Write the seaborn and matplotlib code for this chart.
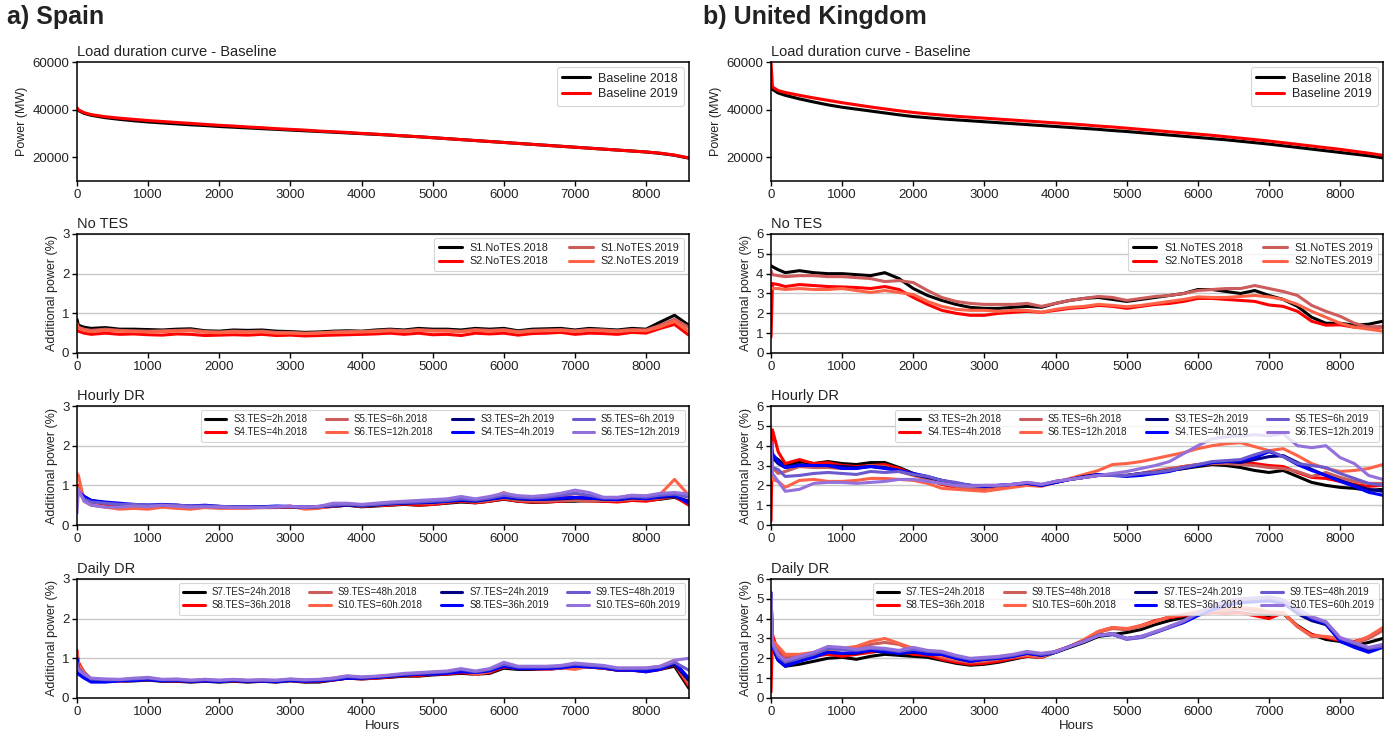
import matplotlib
matplotlib.use("Agg")
import matplotlib.pyplot as plt
import pandas as pd
import seaborn as sns

# ---------------------------------------------------------------- data
# Hour positions of the sampled values (shared by every series)
HOURS = [0, 20, 100] + list(range(200, 8601, 200))

# Load duration curves (MW)
ES_BASE_2018 = [40500, 39600, 38400, 37600,
                36600, 35900, 35300, 34800, 34400,
                34000, 33600, 33300, 32900, 32600,
                32300, 32000, 31700, 31400, 31100,
                30800, 30500, 30200, 29900, 29600,
                29300, 28900, 28600, 28200, 27800,
                27400, 27000, 26600, 26200, 25800,
                25400, 25000, 24600, 24200, 23800,
                23400, 23000, 22600, 22200, 21600,
                20800, 19600]
ES_BASE_2019 = [40800, 39900, 38700, 37900,
                37000, 36400, 35900, 35400, 35000,
                34600, 34200, 33800, 33400, 33100,
                32700, 32400, 32000, 31700, 31400,
                31000, 30700, 30400, 30000, 29700,
                29300, 29000, 28600, 28200, 27800,
                27400, 27000, 26600, 26200, 25800,
                25400, 25000, 24600, 24200, 23800,
                23400, 23000, 22600, 22200, 21700,
                20900, 19700]
UK_BASE_2018 = [49500, 48500, 47000, 46000,
                44500, 43200, 42000, 41000, 40200,
                39400, 38600, 37800, 37100, 36600,
                36100, 35700, 35300, 34900, 34500,
                34100, 33700, 33300, 32900, 32500,
                32100, 31700, 31200, 30800, 30300,
                29800, 29300, 28800, 28300, 27800,
                27300, 26700, 26100, 25500, 24800,
                24100, 23400, 22700, 22000, 21300,
                20600, 19700]
UK_BASE_2019 = [60000, 49500, 48000, 47200,
                46000, 44900, 43900, 42900, 42000,
                41100, 40300, 39500, 38800, 38200,
                37700, 37200, 36800, 36400, 36000,
                35600, 35200, 34800, 34400, 34000,
                33600, 33100, 32700, 32200, 31700,
                31200, 30700, 30200, 29700, 29200,
                28600, 28000, 27400, 26800, 26100,
                25400, 24700, 24000, 23300, 22500,
                21700, 20800]

# Spain - No TES (%)
ES_S1_2018 = [0.85, 0.70, 0.65, 0.62,
              0.64, 0.60, 0.60, 0.59, 0.58,
              0.60, 0.61, 0.56, 0.55, 0.58,
              0.57, 0.58, 0.55, 0.54, 0.52,
              0.53, 0.55, 0.56, 0.55, 0.58,
              0.60, 0.58, 0.62, 0.60, 0.60,
              0.58, 0.62, 0.60, 0.62, 0.56,
              0.60, 0.61, 0.62, 0.58, 0.62,
              0.60, 0.58, 0.62, 0.60, 0.78,
              0.95, 0.70]
ES_S2_2018 = [0.65, 0.55, 0.50, 0.47,
              0.50, 0.47, 0.48, 0.46, 0.45,
              0.48, 0.47, 0.44, 0.45, 0.46,
              0.45, 0.47, 0.44, 0.45, 0.43,
              0.44, 0.45, 0.46, 0.47, 0.48,
              0.50, 0.47, 0.50, 0.46, 0.47,
              0.44, 0.50, 0.48, 0.50, 0.45,
              0.49, 0.50, 0.52, 0.47, 0.50,
              0.49, 0.47, 0.52, 0.50, 0.62,
              0.72, 0.45]
ES_S1_2019 = [0.75, 0.65, 0.60, 0.57,
              0.60, 0.57, 0.56, 0.55, 0.56,
              0.57, 0.58, 0.54, 0.53, 0.55,
              0.54, 0.55, 0.52, 0.52, 0.50,
              0.51, 0.53, 0.54, 0.54, 0.56,
              0.58, 0.56, 0.59, 0.57, 0.57,
              0.55, 0.59, 0.57, 0.59, 0.54,
              0.57, 0.58, 0.59, 0.56, 0.59,
              0.58, 0.56, 0.59, 0.58, 0.70,
              0.85, 0.65]
ES_S2_2019 = [0.70, 0.62, 0.57, 0.54,
              0.57, 0.55, 0.54, 0.53, 0.54,
              0.55, 0.56, 0.52, 0.51, 0.53,
              0.52, 0.53, 0.50, 0.50, 0.49,
              0.50, 0.52, 0.52, 0.53, 0.54,
              0.56, 0.54, 0.57, 0.55, 0.55,
              0.53, 0.57, 0.55, 0.57, 0.52,
              0.55, 0.56, 0.57, 0.54, 0.57,
              0.56, 0.54, 0.57, 0.56, 0.66,
              0.80, 0.55]

# Spain - Hourly DR (%)
ES_S3_2018 = [0.75, 0.85, 0.72, 0.62,
              0.55, 0.50, 0.50, 0.48, 0.50,
              0.50, 0.47, 0.48, 0.47, 0.45,
              0.46, 0.45, 0.45, 0.46, 0.44,
              0.45, 0.47, 0.50, 0.46, 0.48,
              0.50, 0.52, 0.50, 0.52, 0.55,
              0.58, 0.56, 0.60, 0.65, 0.60,
              0.57, 0.58, 0.60, 0.60, 0.62,
              0.60, 0.60, 0.62, 0.62, 0.65,
              0.70, 0.55]
ES_S4_2018 = [0.90, 1.00, 0.70, 0.58,
              0.52, 0.50, 0.48, 0.47, 0.48,
              0.48, 0.47, 0.47, 0.46, 0.45,
              0.45, 0.44, 0.44, 0.45, 0.43,
              0.44, 0.47, 0.50, 0.47, 0.49,
              0.50, 0.53, 0.50, 0.52, 0.56,
              0.60, 0.56, 0.60, 0.66, 0.60,
              0.58, 0.58, 0.60, 0.62, 0.60,
              0.60, 0.58, 0.62, 0.60, 0.66,
              0.72, 0.50]
ES_S5_2018 = [0.85, 0.95, 0.70, 0.60,
              0.55, 0.52, 0.50, 0.48, 0.49,
              0.48, 0.46, 0.47, 0.46, 0.45,
              0.45, 0.45, 0.45, 0.46, 0.44,
              0.45, 0.48, 0.50, 0.48, 0.50,
              0.52, 0.55, 0.55, 0.55, 0.58,
              0.62, 0.58, 0.62, 0.68, 0.62,
              0.60, 0.60, 0.62, 0.62, 0.60,
              0.62, 0.62, 0.65, 0.65, 0.68,
              0.72, 0.60]
ES_S6_2018 = [1.30, 1.25, 0.60, 0.50,
              0.45, 0.40, 0.42, 0.40, 0.45,
              0.42, 0.40, 0.44, 0.42, 0.42,
              0.42, 0.44, 0.45, 0.48, 0.40,
              0.42, 0.50, 0.52, 0.48, 0.52,
              0.55, 0.58, 0.60, 0.58, 0.60,
              0.65, 0.62, 0.66, 0.82, 0.68,
              0.62, 0.68, 0.70, 0.80, 0.72,
              0.66, 0.68, 0.75, 0.70, 0.78,
              1.15, 0.75]
ES_S3_2019 = [0.70, 0.80, 0.70, 0.60,
              0.56, 0.52, 0.50, 0.50, 0.50,
              0.49, 0.47, 0.48, 0.46, 0.46,
              0.46, 0.45, 0.46, 0.46, 0.45,
              0.46, 0.48, 0.50, 0.48, 0.50,
              0.53, 0.55, 0.56, 0.57, 0.60,
              0.62, 0.60, 0.65, 0.70, 0.66,
              0.64, 0.65, 0.66, 0.68, 0.68,
              0.65, 0.64, 0.68, 0.67, 0.70,
              0.72, 0.60]
ES_S4_2019 = [0.75, 0.85, 0.72, 0.62,
              0.58, 0.55, 0.52, 0.50, 0.52,
              0.50, 0.48, 0.50, 0.47, 0.46,
              0.46, 0.46, 0.48, 0.47, 0.45,
              0.47, 0.50, 0.52, 0.50, 0.52,
              0.55, 0.56, 0.57, 0.58, 0.60,
              0.63, 0.62, 0.66, 0.70, 0.68,
              0.65, 0.66, 0.68, 0.70, 0.68,
              0.66, 0.64, 0.70, 0.66, 0.72,
              0.75, 0.55]
ES_S5_2019 = [0.60, 0.85, 0.65, 0.58,
              0.55, 0.52, 0.52, 0.50, 0.50,
              0.50, 0.48, 0.48, 0.47, 0.46,
              0.46, 0.45, 0.46, 0.47, 0.45,
              0.46, 0.50, 0.52, 0.50, 0.52,
              0.55, 0.57, 0.58, 0.60, 0.62,
              0.66, 0.63, 0.68, 0.75, 0.70,
              0.68, 0.70, 0.75, 0.80, 0.75,
              0.68, 0.68, 0.72, 0.70, 0.75,
              0.78, 0.70]
ES_S6_2019 = [0.30, 0.90, 0.60, 0.50,
              0.45, 0.45, 0.48, 0.46, 0.50,
              0.47, 0.45, 0.46, 0.45, 0.44,
              0.44, 0.44, 0.46, 0.47, 0.45,
              0.47, 0.55, 0.55, 0.52, 0.55,
              0.58, 0.60, 0.62, 0.64, 0.66,
              0.72, 0.66, 0.72, 0.80, 0.74,
              0.72, 0.75, 0.80, 0.88, 0.82,
              0.70, 0.70, 0.75, 0.74, 0.80,
              0.82, 0.78]

# Spain - Daily DR (%)
ES_S7_2018 = [1.00, 0.80, 0.60, 0.45,
              0.42, 0.42, 0.43, 0.45, 0.42,
              0.42, 0.40, 0.42, 0.40, 0.42,
              0.40, 0.42, 0.40, 0.43, 0.40,
              0.40, 0.45, 0.50, 0.48, 0.50,
              0.52, 0.55, 0.55, 0.58, 0.60,
              0.62, 0.60, 0.62, 0.75, 0.72,
              0.72, 0.72, 0.75, 0.80, 0.78,
              0.75, 0.70, 0.70, 0.68, 0.72,
              0.80, 0.25]
ES_S8_2018 = [1.20, 0.90, 0.65, 0.45,
              0.42, 0.43, 0.44, 0.46, 0.43,
              0.43, 0.41, 0.43, 0.41, 0.43,
              0.41, 0.42, 0.41, 0.44, 0.41,
              0.42, 0.45, 0.50, 0.48, 0.50,
              0.53, 0.56, 0.56, 0.60, 0.60,
              0.64, 0.60, 0.64, 0.78, 0.74,
              0.74, 0.72, 0.76, 0.80, 0.78,
              0.75, 0.70, 0.70, 0.66, 0.72,
              0.85, 0.30]
ES_S9_2018 = [1.10, 0.85, 0.65, 0.48,
              0.45, 0.44, 0.45, 0.48, 0.45,
              0.45, 0.43, 0.45, 0.42, 0.45,
              0.43, 0.44, 0.42, 0.45, 0.43,
              0.45, 0.47, 0.52, 0.50, 0.52,
              0.55, 0.58, 0.60, 0.62, 0.63,
              0.68, 0.62, 0.68, 0.82, 0.76,
              0.75, 0.75, 0.78, 0.80, 0.80,
              0.78, 0.72, 0.72, 0.72, 0.75,
              0.88, 0.35]
ES_S10_2018 = [1.15, 0.85, 0.60, 0.45,
               0.42, 0.42, 0.45, 0.50, 0.44,
               0.46, 0.42, 0.47, 0.42, 0.46,
               0.44, 0.45, 0.43, 0.47, 0.44,
               0.46, 0.50, 0.55, 0.52, 0.53,
               0.57, 0.60, 0.62, 0.65, 0.62,
               0.70, 0.60, 0.66, 0.88, 0.76,
               0.74, 0.72, 0.76, 0.72, 0.80,
               0.76, 0.72, 0.74, 0.75, 0.80,
               0.95, 0.45]
ES_S7_2019 = [1.00, 0.70, 0.55, 0.42,
              0.42, 0.44, 0.45, 0.47, 0.44,
              0.44, 0.42, 0.44, 0.42, 0.44,
              0.42, 0.43, 0.42, 0.45, 0.43,
              0.44, 0.46, 0.50, 0.50, 0.52,
              0.55, 0.57, 0.60, 0.62, 0.64,
              0.68, 0.66, 0.70, 0.80, 0.75,
              0.75, 0.76, 0.78, 0.82, 0.80,
              0.78, 0.72, 0.72, 0.70, 0.74,
              0.85, 0.45]
ES_S8_2019 = [1.00, 0.60, 0.50, 0.40,
              0.40, 0.43, 0.44, 0.46, 0.43,
              0.44, 0.42, 0.43, 0.41, 0.44,
              0.42, 0.43, 0.41, 0.44, 0.42,
              0.43, 0.46, 0.50, 0.50, 0.52,
              0.55, 0.58, 0.60, 0.60, 0.62,
              0.66, 0.64, 0.68, 0.80, 0.74,
              0.74, 0.74, 0.76, 0.80, 0.78,
              0.76, 0.70, 0.70, 0.66, 0.72,
              0.90, 0.50]
ES_S9_2019 = [0.90, 0.75, 0.60, 0.48,
              0.46, 0.46, 0.48, 0.50, 0.46,
              0.46, 0.44, 0.46, 0.44, 0.46,
              0.44, 0.45, 0.44, 0.47, 0.45,
              0.46, 0.48, 0.54, 0.52, 0.54,
              0.57, 0.60, 0.62, 0.64, 0.66,
              0.72, 0.66, 0.72, 0.85, 0.78,
              0.78, 0.78, 0.80, 0.85, 0.82,
              0.80, 0.74, 0.74, 0.74, 0.78,
              0.90, 0.70]
ES_S10_2019 = [0.80, 0.70, 0.60, 0.50,
               0.48, 0.47, 0.50, 0.52, 0.47,
               0.48, 0.45, 0.47, 0.45, 0.47,
               0.45, 0.46, 0.45, 0.48, 0.46,
               0.47, 0.50, 0.56, 0.53, 0.55,
               0.58, 0.62, 0.64, 0.66, 0.68,
               0.74, 0.68, 0.74, 0.90, 0.80,
               0.80, 0.80, 0.82, 0.88, 0.85,
               0.82, 0.76, 0.76, 0.76, 0.80,
               0.95, 1.00]

# United Kingdom - No TES (%)
UK_S1_2018 = [4.40, 4.35, 4.20, 4.05,
              4.15, 4.05, 4.00, 4.00, 3.95,
              3.90, 4.05, 3.75, 3.25, 2.90,
              2.65, 2.45, 2.30, 2.25, 2.25,
              2.30, 2.35, 2.30, 2.50, 2.65,
              2.75, 2.80, 2.70, 2.60, 2.70,
              2.80, 2.90, 3.00, 3.20, 3.20,
              3.10, 3.00, 3.15, 2.90, 2.70,
              2.35, 1.80, 1.50, 1.50, 1.40,
              1.45, 1.60]
UK_S2_2018 = [0.80, 3.50, 3.45, 3.35,
              3.45, 3.40, 3.35, 3.33, 3.30,
              3.25, 3.35, 3.20, 2.80, 2.45,
              2.15, 2.00, 1.90, 1.90, 2.00,
              2.05, 2.10, 2.05, 2.15, 2.25,
              2.30, 2.40, 2.35, 2.25, 2.35,
              2.45, 2.50, 2.60, 2.75, 2.75,
              2.70, 2.65, 2.60, 2.42, 2.35,
              2.10, 1.60, 1.40, 1.42, 1.30,
              1.30, 1.30]
UK_S1_2019 = [4.15, 3.95, 3.90, 3.85,
              3.90, 3.90, 3.85, 3.85, 3.80,
              3.75, 3.60, 3.65, 3.55, 3.15,
              2.80, 2.60, 2.50, 2.45, 2.45,
              2.45, 2.50, 2.35, 2.50, 2.65,
              2.75, 2.85, 2.80, 2.65, 2.75,
              2.85, 2.90, 3.00, 3.15, 3.20,
              3.25, 3.25, 3.40, 3.25, 3.10,
              2.90, 2.40, 2.10, 1.85, 1.50,
              1.30, 1.35]
UK_S2_2019 = [3.30, 3.25, 3.25, 3.20,
              3.25, 3.20, 3.20, 3.25, 3.15,
              3.05, 3.15, 3.05, 2.95, 2.60,
              2.35, 2.20, 2.15, 2.15, 2.10,
              2.15, 2.15, 2.05, 2.20, 2.30,
              2.35, 2.45, 2.40, 2.33, 2.40,
              2.50, 2.60, 2.70, 2.83, 2.80,
              2.80, 2.85, 2.90, 2.83, 2.70,
              2.45, 2.10, 1.80, 1.50, 1.30,
              1.20, 1.10]

# United Kingdom - Hourly DR (%)
UK_S3_2018 = [3.80, 3.50, 3.30, 3.00,
              3.20, 3.10, 3.20, 3.10, 3.05,
              3.15, 3.15, 2.90, 2.60, 2.40,
              2.20, 2.05, 1.95, 1.90, 1.95,
              2.00, 2.05, 2.00, 2.15, 2.30,
              2.40, 2.50, 2.50, 2.50, 2.55,
              2.65, 2.75, 2.85, 2.95, 3.05,
              3.00, 2.90, 2.75, 2.65, 2.75,
              2.45, 2.15, 2.00, 1.90, 1.85,
              1.75, 1.80]
UK_S4_2018 = [0.20, 4.80, 3.70, 3.10,
              3.30, 3.10, 3.15, 3.00, 2.95,
              3.00, 3.05, 2.85, 2.55, 2.30,
              2.05, 1.90, 1.85, 1.85, 1.95,
              2.00, 2.05, 2.00, 2.20, 2.30,
              2.40, 2.50, 2.50, 2.50, 2.60,
              2.70, 2.80, 2.95, 3.05, 3.10,
              3.10, 3.15, 3.10, 3.00, 2.95,
              2.65, 2.40, 2.35, 2.20, 2.05,
              1.95, 2.00]
UK_S5_2018 = [3.20, 2.90, 2.60, 2.70,
              2.95, 2.90, 2.90, 2.85, 2.85,
              3.00, 2.95, 2.70, 2.50, 2.30,
              2.10, 1.95, 1.85, 1.85, 1.95,
              2.00, 2.05, 2.00, 2.20, 2.30,
              2.45, 2.55, 2.50, 2.50, 2.60,
              2.75, 2.85, 2.95, 3.05, 3.10,
              3.10, 3.05, 3.00, 2.90, 2.85,
              2.70, 2.45, 2.65, 2.40, 2.20,
              2.10, 2.10]
UK_S6_2018 = [2.60, 2.30, 2.20, 1.90,
              2.25, 2.30, 2.20, 2.20, 2.25,
              2.35, 2.35, 2.30, 2.25, 2.10,
              1.85, 1.80, 1.75, 1.70, 1.80,
              1.90, 2.00, 1.95, 2.15, 2.35,
              2.55, 2.75, 3.05, 3.10, 3.20,
              3.35, 3.50, 3.65, 3.85, 4.00,
              4.10, 4.15, 3.95, 3.75, 3.85,
              3.50, 3.10, 2.85, 2.70, 2.75,
              2.85, 3.05]
UK_S3_2019 = [3.60, 3.40, 3.10, 2.90,
              3.05, 3.00, 3.00, 2.95, 2.90,
              2.95, 2.90, 2.75, 2.55, 2.40,
              2.25, 2.10, 2.00, 1.95, 2.00,
              2.05, 2.10, 2.00, 2.15, 2.30,
              2.45, 2.55, 2.50, 2.50, 2.60,
              2.65, 2.75, 2.85, 3.00, 3.15,
              3.20, 3.15, 3.30, 3.45, 3.50,
              3.15, 2.80, 2.50, 2.25, 2.00,
              1.80, 1.70]
UK_S4_2019 = [4.00, 3.60, 3.20, 2.90,
              3.00, 3.00, 3.00, 2.85, 2.85,
              2.95, 2.85, 2.75, 2.60, 2.45,
              2.25, 2.10, 2.00, 1.95, 2.00,
              2.05, 2.10, 2.00, 2.15, 2.30,
              2.40, 2.55, 2.50, 2.45, 2.50,
              2.60, 2.70, 2.90, 3.00, 3.15,
              3.20, 3.25, 3.40, 3.70, 3.45,
              3.05, 2.75, 2.50, 2.20, 1.95,
              1.65, 1.50]
UK_S5_2019 = [3.20, 2.90, 2.80, 2.45,
              2.50, 2.60, 2.65, 2.60, 2.55,
              2.70, 2.65, 2.70, 2.55, 2.45,
              2.25, 2.15, 2.00, 2.00, 2.00,
              2.05, 2.15, 2.05, 2.20, 2.30,
              2.40, 2.50, 2.50, 2.50, 2.60,
              2.65, 2.75, 2.90, 3.05, 3.20,
              3.25, 3.30, 3.55, 3.75, 3.45,
              3.10, 3.00, 2.90, 2.60, 2.35,
              2.10, 2.00]
UK_S6_2019 = [4.20, 2.60, 2.20, 1.70,
              1.80, 2.10, 2.15, 2.15, 2.10,
              2.15, 2.20, 2.30, 2.30, 2.20,
              2.10, 2.00, 1.95, 2.00, 2.00,
              2.05, 2.15, 2.05, 2.20, 2.30,
              2.40, 2.50, 2.60, 2.70, 2.85,
              3.00, 3.20, 3.60, 4.00, 4.35,
              4.45, 4.50, 4.55, 4.50, 4.60,
              4.00, 3.90, 4.00, 3.40, 3.10,
              2.50, 2.30]

# United Kingdom - Daily DR (%)
UK_S7_2018 = [3.00, 2.50, 1.90, 1.60,
              1.70, 1.85, 2.00, 2.05, 1.95,
              2.10, 2.20, 2.15, 2.10, 2.05,
              1.90, 1.75, 1.65, 1.70, 1.80,
              1.95, 2.10, 2.05, 2.30, 2.55,
              2.80, 3.10, 3.20, 3.30, 3.45,
              3.70, 3.90, 4.05, 4.20, 4.30,
              4.30, 4.30, 4.20, 4.15, 4.25,
              3.65, 3.20, 2.95, 2.85, 2.65,
              2.80, 3.00]
UK_S8_2018 = [0.30, 3.20, 2.30, 2.00,
              2.00, 2.10, 2.20, 2.10, 2.20,
              2.30, 2.40, 2.35, 2.20, 2.15,
              1.95, 1.80, 1.70, 1.75, 1.85,
              2.00, 2.10, 2.05, 2.35, 2.60,
              2.90, 3.35, 3.55, 3.45, 3.65,
              3.90, 4.05, 4.15, 4.25, 4.30,
              4.25, 4.30, 4.15, 4.00, 4.30,
              3.60, 3.20, 3.05, 2.90, 2.85,
              3.05, 3.50]
UK_S9_2018 = [3.00, 2.80, 2.50, 2.10,
              2.15, 2.25, 2.45, 2.45, 2.50,
              2.70, 2.80, 2.70, 2.40, 2.30,
              2.05, 1.90, 1.80, 1.85, 1.95,
              2.05, 2.15, 2.05, 2.35, 2.60,
              2.90, 3.30, 3.50, 3.45, 3.60,
              3.85, 4.10, 4.20, 4.30, 4.40,
              4.40, 4.50, 4.40, 4.30, 4.30,
              3.60, 3.10, 3.10, 2.95, 2.75,
              3.00, 3.40]
UK_S10_2018 = [3.20, 2.90, 2.60, 2.20,
               2.20, 2.30, 2.50, 2.50, 2.60,
               2.85, 3.00, 2.75, 2.50, 2.35,
               2.10, 1.95, 1.85, 1.90, 2.00,
               2.10, 2.15, 2.10, 2.35, 2.60,
               2.95, 3.35, 3.55, 3.50, 3.65,
               3.85, 4.10, 4.20, 4.35, 4.45,
               4.50, 4.55, 4.50, 4.35, 4.30,
               3.60, 3.15, 3.10, 3.00, 2.80,
               3.10, 3.55]
UK_S7_2019 = [5.30, 2.70, 2.00, 1.70,
              1.90, 2.10, 2.30, 2.25, 2.25,
              2.40, 2.30, 2.25, 2.30, 2.25,
              2.20, 2.00, 1.85, 1.95, 2.00,
              2.10, 2.25, 2.15, 2.30, 2.60,
              2.85, 3.15, 3.25, 3.00, 3.10,
              3.30, 3.60, 3.85, 4.20, 4.50,
              4.70, 4.85, 4.90, 4.90, 4.80,
              4.25, 3.90, 3.70, 2.90, 2.60,
              2.40, 2.60]
UK_S8_2019 = [5.30, 2.60, 1.90, 1.60,
              1.85, 2.05, 2.30, 2.25, 2.30,
              2.40, 2.35, 2.25, 2.35, 2.20,
              2.20, 2.00, 1.85, 1.95, 2.00,
              2.10, 2.25, 2.15, 2.30, 2.60,
              2.85, 3.15, 3.20, 3.00, 3.05,
              3.30, 3.55, 3.80, 4.15, 4.45,
              4.65, 4.80, 4.85, 4.90, 4.75,
              4.35, 4.00, 3.75, 2.85, 2.55,
              2.30, 2.55]
UK_S9_2019 = [5.30, 2.70, 2.10, 1.80,
              2.00, 2.20, 2.50, 2.45, 2.40,
              2.50, 2.45, 2.35, 2.45, 2.35,
              2.30, 2.10, 1.95, 2.00, 2.05,
              2.15, 2.30, 2.20, 2.30, 2.60,
              2.85, 3.15, 3.20, 2.95, 3.05,
              3.30, 3.55, 3.85, 4.25, 4.60,
              4.85, 4.95, 5.00, 5.05, 4.90,
              4.45, 4.05, 3.80, 3.00, 2.75,
              2.50, 2.60]
UK_S10_2019 = [5.30, 2.80, 2.20, 1.90,
               2.10, 2.30, 2.60, 2.55, 2.45,
               2.55, 2.50, 2.40, 2.55, 2.40,
               2.35, 2.15, 2.00, 2.05, 2.10,
               2.20, 2.35, 2.25, 2.35, 2.60,
               2.85, 3.15, 3.25, 3.00, 3.10,
               3.35, 3.60, 3.90, 4.30, 4.65,
               4.90, 5.00, 5.05, 5.10, 4.95,
               4.50, 4.10, 3.85, 3.05, 2.80,
               2.55, 2.70]

# Legend labels
BASE_LABELS = ["Baseline 2018", "Baseline 2019"]
NOTES_LABELS = ["S1.NoTES.2018", "S2.NoTES.2018", "S1.NoTES.2019", "S2.NoTES.2019"]
HOURLY_LABELS = ["S3.TES=2h.2018", "S4.TES=4h.2018", "S5.TES=6h.2018", "S6.TES=12h.2018",
                 "S3.TES=2h.2019", "S4.TES=4h.2019", "S5.TES=6h.2019", "S6.TES=12h.2019"]
DAILY_LABELS = ["S7.TES=24h.2018", "S8.TES=36h.2018", "S9.TES=48h.2018", "S10.TES=60h.2018",
                "S7.TES=24h.2019", "S8.TES=36h.2019", "S9.TES=48h.2019", "S10.TES=60h.2019"]

# ---------------------------------------------------------------- style
BASE_COLORS = ["black", "red"]
NOTES_COLORS = ["black", "red", "indianred", "tomato"]
TES_COLORS = ["black", "red", "indianred", "tomato",
              "navy", "blue", "slateblue", "mediumpurple"]

sns.set_theme(style="white")
plt.rcParams["font.family"] = ["Liberation Sans", "DejaVu Sans"]
plt.rcParams["text.color"] = "#222222"
plt.rcParams["axes.labelcolor"] = "#222222"

fig = plt.figure(figsize=(13.92, 7.4), dpi=100)

COL_LEFT = [0.0553, 0.5539]
COL_WIDTH = 0.4395
ROW_BOTTOM = [0.7554, 0.5230, 0.2905, 0.0568]
ROW_HEIGHT = 0.1608


def draw_panel(ax, series, labels, colors, title, ylim, yticks, ylabel,
               ncol, legend_size, grid=True, xlabel=None):
    for values, label, color in zip(series, labels, colors):
        frame = pd.DataFrame({"Hours": HOURS, "value": values})
        sns.lineplot(data=frame, x="Hours", y="value", ax=ax, color=color,
                     lw=2.2, label=label, errorbar=None, legend=False)
    ax.set_xlim(0, 8600)
    ax.set_xticks(range(0, 8001, 1000))
    ax.set_ylim(*ylim)
    ax.set_yticks(yticks)
    ax.set_title(title, loc="left", fontsize=10.5, pad=4)
    ax.set_ylabel(ylabel, fontsize=9, labelpad=3)
    ax.set_xlabel(xlabel if xlabel else "", fontsize=9.5, labelpad=2)
    ax.tick_params(axis="both", which="major", bottom=True, left=True,
                   direction="out", length=3.5, width=1, color="black",
                   labelsize=9.5, pad=2, labelcolor="#222222")
    for spine in ax.spines.values():
        spine.set_color("black")
        spine.set_linewidth(1.1)
    if grid:
        ax.yaxis.grid(True, color="#c8c8c8", lw=1)
    else:
        ax.grid(False)
    ax.xaxis.grid(False)
    ax.set_axisbelow(True)
    leg = ax.legend(ncol=ncol, loc="upper right", fontsize=legend_size,
                    frameon=True, borderaxespad=0.4, handlelength=2.2,
                    columnspacing=1.9, handletextpad=0.7, labelspacing=0.3,
                    borderpad=0.45)
    leg.get_frame().set_edgecolor("#cccccc")
    leg.get_frame().set_linewidth(0.8)


panels = [
    # Spain
    (0, 0, [ES_BASE_2018, ES_BASE_2019], BASE_LABELS, BASE_COLORS,
     "Load duration curve - Baseline", (10000, 60000), [20000, 40000, 60000],
     "Power (MW)", 1, 9, False),
    (0, 1, [ES_S1_2018, ES_S2_2018, ES_S1_2019, ES_S2_2019], NOTES_LABELS,
     NOTES_COLORS, "No TES", (0, 3), [0, 1, 2, 3], "Additional power (%)", 2, 7.8, True),
    (0, 2, [ES_S3_2018, ES_S4_2018, ES_S5_2018, ES_S6_2018,
            ES_S3_2019, ES_S4_2019, ES_S5_2019, ES_S6_2019], HOURLY_LABELS,
     TES_COLORS, "Hourly DR", (0, 3), [0, 1, 2, 3], "Additional power (%)", 4, 7.0, True),
    (0, 3, [ES_S7_2018, ES_S8_2018, ES_S9_2018, ES_S10_2018,
            ES_S7_2019, ES_S8_2019, ES_S9_2019, ES_S10_2019], DAILY_LABELS,
     TES_COLORS, "Daily DR", (0, 3), [0, 1, 2, 3], "Additional power (%)", 4, 7.0, True),
    # United Kingdom
    (1, 0, [UK_BASE_2018, UK_BASE_2019], BASE_LABELS, BASE_COLORS,
     "Load duration curve - Baseline", (10000, 60000), [20000, 40000, 60000],
     "Power (MW)", 1, 9, False),
    (1, 1, [UK_S1_2018, UK_S2_2018, UK_S1_2019, UK_S2_2019], NOTES_LABELS,
     NOTES_COLORS, "No TES", (0, 6), list(range(7)), "Additional power (%)", 2, 7.8, True),
    (1, 2, [UK_S3_2018, UK_S4_2018, UK_S5_2018, UK_S6_2018,
            UK_S3_2019, UK_S4_2019, UK_S5_2019, UK_S6_2019], HOURLY_LABELS,
     TES_COLORS, "Hourly DR", (0, 6), list(range(7)), "Additional power (%)", 4, 7.0, True),
    (1, 3, [UK_S7_2018, UK_S8_2018, UK_S9_2018, UK_S10_2018,
            UK_S7_2019, UK_S8_2019, UK_S9_2019, UK_S10_2019], DAILY_LABELS,
     TES_COLORS, "Daily DR", (0, 6), list(range(7)), "Additional power (%)", 4, 7.0, True),
]

for col, row, series, labels, colors, title, ylim, yticks, ylabel, ncol, lsize, grid in panels:
    ax = fig.add_axes([COL_LEFT[col], ROW_BOTTOM[row], COL_WIDTH, ROW_HEIGHT])
    draw_panel(ax, series, labels, colors, title, ylim, yticks, ylabel, ncol, lsize,
               grid=grid, xlabel="Hours" if row == 3 else None)

fig.text(0.005, 0.993, "a) Spain", fontsize=18, fontweight="bold", va="top", ha="left")
fig.text(0.505, 0.993, "b) United Kingdom", fontsize=18, fontweight="bold", va="top", ha="left")

fig.savefig("out.png", dpi=100)
